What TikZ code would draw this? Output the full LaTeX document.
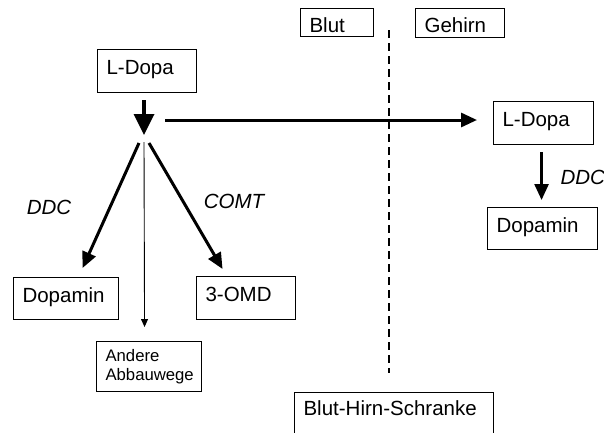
\documentclass[tikz,border=0pt]{standalone}
\usepackage{fontspec}
\setmainfont{Liberation Sans}
\usetikzlibrary{positioning,arrows.meta,calc}

\begin{document}
\begin{tikzpicture}[x=1pt,y=-1pt]
\tikzset{box/.style={draw,line width=1.1pt,anchor=north west,inner xsep=9pt,inner ysep=0pt,align=left,font=\fontsize{20.5}{24}\selectfont},
  one/.style={text height=15pt,text depth=8pt},
  enz/.style={font=\fontsize{20.5}{24}\selectfont\itshape},
  fat/.style={line width=3pt,-{Triangle[length=16pt,width=14pt]}},
  big/.style={line width=3.5pt,-{Triangle[length=21pt,width=20pt]}},
  slim/.style={line width=0.9pt,-{Triangle[length=8pt,width=7pt]}}}
\clip (0,0) rectangle (604,432);
% Blut side
\node[box,one,text width=81pt,minimum height=43pt] (ldT) at (97,49) {L-Dopa};
\node[box,one,text width=87pt,minimum height=42pt] (dopL) at (13,277) {Dopamin};
\node[box,one,text width=81pt,minimum height=43pt] (omd) at (196,276) {3-OMD};
\node[box,text width=87pt,minimum height=50pt,font=\fontsize{16.7}{19}\selectfont] (abbau) at (96,341) {Andere\\Abbauwege};
\node[box,text width=55pt,minimum height=28pt,text height=19pt,text depth=0pt] (blut) at (300,8) {Blut};
% Gehirn side
\node[box,text width=71pt,minimum height=29pt,text height=19pt,text depth=0pt] (geh) at (415,8) {Gehirn};
\node[box,one,text width=82pt,minimum height=43pt] (ldR) at (493,101) {L-Dopa};
\node[box,one,text width=92pt,minimum height=42pt] (dopR) at (487,207) {Dopamin};
\node[box,text width=181pt,inner ysep=8pt,text height=15pt,text depth=30pt] (bhs) at (294,392) {Blut-Hirn-Schranke};
\node[enz] (ddcL) at (49,207) {DDC};
\node[enz] (comt) at (234,201) {COMT};
\node[enz,anchor=west] (ddcR) at (557,177) {DDC};
% Schranke
\coordinate (wallT) at (389,30);
\coordinate (wallB) at (389,373);
\draw[line width=2pt,dash pattern=on 8pt off 5pt] (wallT) -- (wallB);
% Pfeile
\coordinate (split) at (144,135);
\coordinate (hstart) at (165,120);
\draw[big] ([yshift=-7pt]split |- ldT.south) -- (split);
\draw[fat,shorten >=16pt] (hstart) -- (hstart -| ldR.west);
\draw[fat] ($(split)+(-5,8)$) -- ($(dopL.north)+(16.5,-9)$);
\draw[fat] ($(split)+(5,8)$) -- ($(omd.north)+(-23.5,-7)$);
\draw[slim] ($(split)+(0,7)$) -- ($(abbau.north)+(-4.5,-14)$);
\draw[fat,line width=2.6pt] ($(ldR.south)+(-2,7)$) -- ($(dopR.north)+(-1,-7)$);
\end{tikzpicture}
\end{document}
